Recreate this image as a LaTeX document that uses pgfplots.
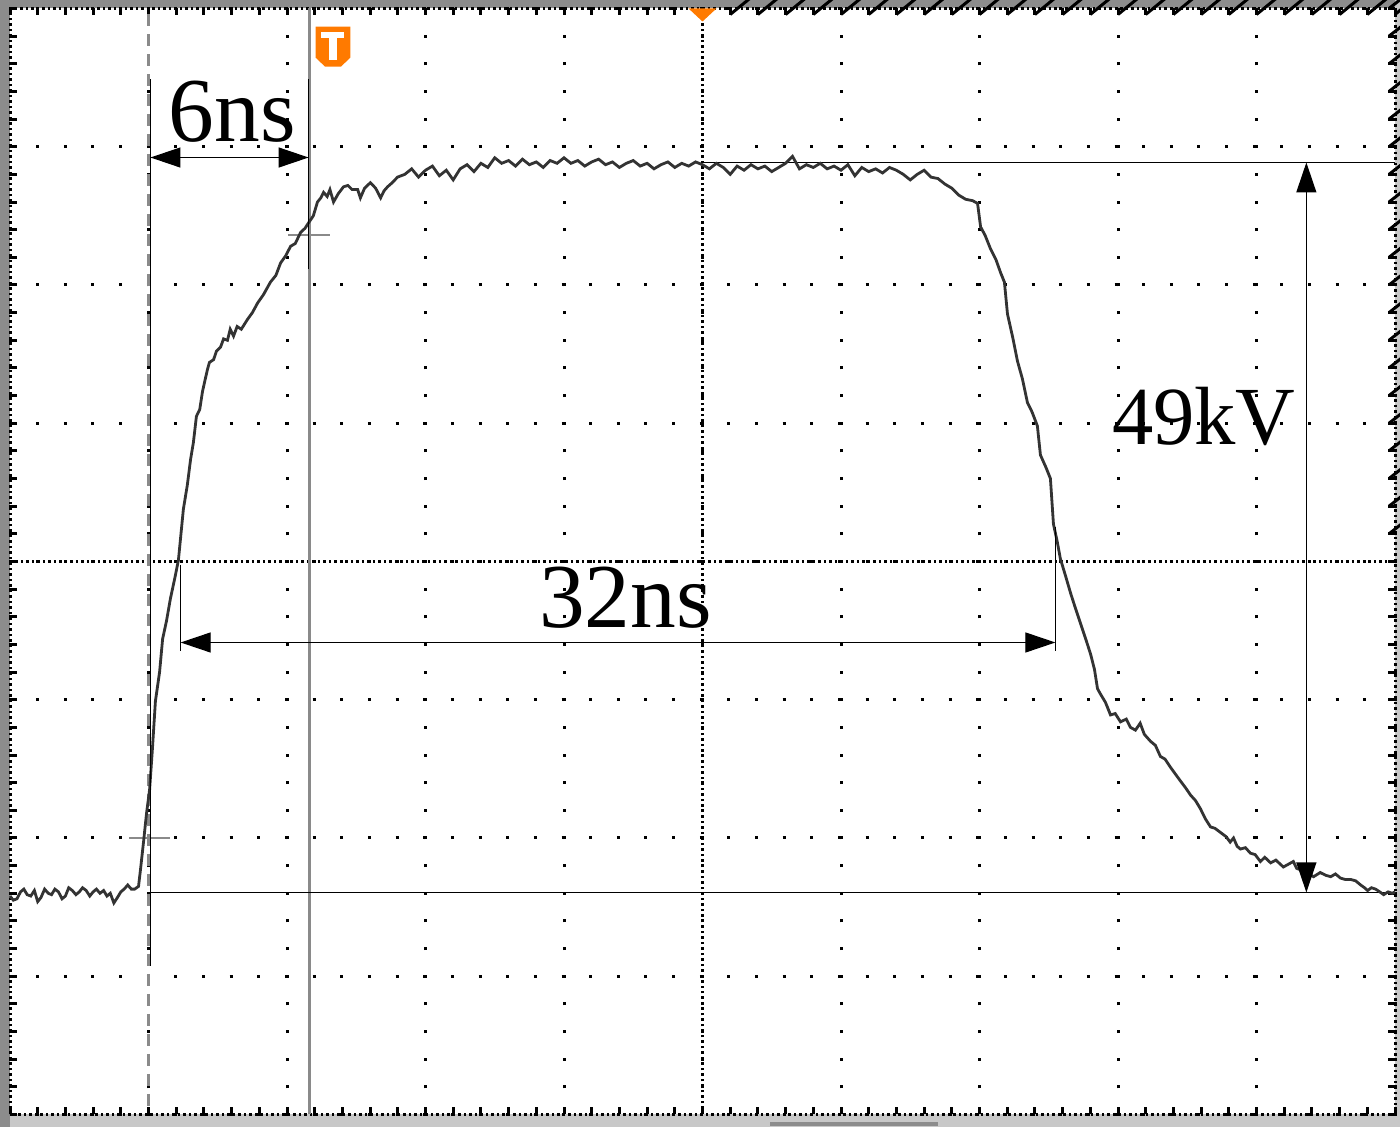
\documentclass[border=0pt]{standalone}
\usepackage{pgfplots}
\pgfplotsset{compat=1.18}
\usetikzlibrary{arrows.meta}
\usepackage{fontspec}
\setmainfont{Liberation Serif}
\definecolor{bezel}{HTML}{8C8C8C}
\definecolor{bezellight}{HTML}{C8C8C8}
\definecolor{trace}{HTML}{333333}
\definecolor{cursor}{HTML}{8A8A8A}
\definecolor{trig}{HTML}{FF7A00}

\begin{document}
\begin{tikzpicture}
% scope frame
\fill[bezel] (-0.10,-0.125) rectangle (13.90,11.145);
\fill[bezellight] (13.85,-0.125) rectangle (13.90,11.145);
\fill[bezellight] (0,-0.125) rectangle (13.90,0);
\fill[bezel] (7.60,-0.075) rectangle (9.28,-0.115);
\fill[white] (0,0) rectangle (13.85,11.06);

\begin{axis}[
  scale only axis, width=13.85cm, height=11.06cm,
  xmin=-25, xmax=25, ymin=-4, ymax=4,
  xtick={-25,-20,...,25}, ytick={-4,...,4},
  minor x tick num=4, minor y tick num=4,
  xticklabels={}, yticklabels={},
  tick align=inside, major tick length=0.07cm, minor tick length=0.07cm,
  tick style={black, line width=0.03cm},
  grid=major,
  major grid style={black, line width=0.03cm, dash pattern=on 0.03cm off 0.2465cm, dash phase=0.015cm},
  axis line style={black, line width=0.03cm, dash pattern=on 0.025cm off 0.03cm},
  clip=false,
]
% centre crosshair
\draw[black, line width=0.025cm, dash pattern=on 0.025cm off 0.03cm] (axis cs:0,-4) -- (axis cs:0,4);
\draw[black, line width=0.025cm, dash pattern=on 0.025cm off 0.03cm] (axis cs:-25,0) -- (axis cs:25,0);
\pgfplotsinvokeforeach{-24,...,24}{\draw[black, line width=0.03cm] (axis cs:#1,0) ++(0,-0.06cm) -- ++(0,0.12cm);}
\pgfplotsinvokeforeach{-3.8,-3.6,...,3.8}{\draw[black, line width=0.03cm] (axis cs:0,#1) ++(-0.06cm,0) -- ++(0.12cm,0);}

% cursors
\draw[cursor, line width=0.03cm, dash pattern=on 0.12cm off 0.08cm] (axis cs:-20.0,3.96) -- (axis cs:-20.0,-3.96);
\draw[cursor, line width=0.03cm] (axis cs:-14.19,-4) -- (axis cs:-14.19,4);
\draw[cursor, line width=0.02cm] (axis cs:-20.69,-2.0) -- (axis cs:-19.24,-2.0);
\draw[cursor, line width=0.02cm] (axis cs:-14.95,2.365) -- (axis cs:-13.43,2.365);

% reference lines
\draw[black, line width=0.012cm] (axis cs:-20.0,-2.394) -- (axis cs:25,-2.394);
\draw[black, line width=0.012cm] (axis cs:-0.07,2.886) -- (axis cs:25,2.886);

% waveform
\addplot[trace, line width=0.028cm, sharp plot, mark=none] coordinates {
(-25.00,-2.42) (-24.88,-2.45) (-24.75,-2.44) (-24.62,-2.39) (-24.50,-2.37) (-24.38,-2.41)
(-24.25,-2.42) (-24.12,-2.38) (-24.00,-2.46) (-23.88,-2.43) (-23.75,-2.37) (-23.62,-2.40)
(-23.50,-2.41) (-23.38,-2.37) (-23.25,-2.39) (-23.12,-2.44) (-23.00,-2.42) (-22.88,-2.36)
(-22.75,-2.38) (-22.62,-2.41) (-22.50,-2.39) (-22.38,-2.36) (-22.25,-2.38) (-22.12,-2.42)
(-22.00,-2.39) (-21.88,-2.37) (-21.75,-2.40) (-21.62,-2.38) (-21.50,-2.42) (-21.38,-2.40)
(-21.25,-2.47) (-21.12,-2.43) (-21.00,-2.39) (-20.88,-2.37) (-20.75,-2.34) (-20.62,-2.37)
(-20.50,-2.37) (-20.36,-2.35) (-20.29,-2.23) (-20.18,-2.03) (-20.07,-1.82) (-19.96,-1.65)
(-19.86,-1.36) (-19.75,-1.01) (-19.60,-0.80) (-19.49,-0.56) (-19.35,-0.43) (-19.21,-0.27)
(-19.05,-0.12) (-18.92,0.01) (-18.74,0.38) (-18.60,0.55) (-18.48,0.74) (-18.38,0.86)
(-18.27,1.05) (-18.15,1.10) (-18.05,1.23) (-17.95,1.32) (-17.87,1.39) (-17.80,1.44)
(-17.65,1.46) (-17.55,1.52) (-17.40,1.55) (-17.29,1.61) (-17.15,1.60) (-17.05,1.68)
(-16.93,1.63) (-16.80,1.70) (-16.65,1.68) (-16.43,1.75) (-16.25,1.80) (-16.06,1.87)
(-15.85,1.93) (-15.60,2.02) (-15.40,2.07) (-15.23,2.16) (-15.05,2.21) (-14.87,2.28)
(-14.70,2.30) (-14.51,2.38) (-14.35,2.41) (-14.22,2.45) (-14.05,2.50) (-13.90,2.60)
(-13.78,2.63) (-13.68,2.67) (-13.55,2.64) (-13.45,2.69) (-13.32,2.60) (-13.15,2.66)
(-12.96,2.71) (-12.80,2.72) (-12.65,2.69) (-12.45,2.69) (-12.35,2.63) (-12.20,2.70)
(-11.99,2.74) (-11.80,2.70) (-11.62,2.63) (-11.50,2.68) (-11.37,2.71) (-11.20,2.74)
(-11.01,2.78) (-10.75,2.80) (-10.50,2.84) (-10.25,2.78) (-10.00,2.83) (-9.75,2.86)
(-9.50,2.79) (-9.25,2.83) (-9.00,2.76) (-8.75,2.84) (-8.50,2.87) (-8.25,2.82)
(-8.00,2.88) (-7.75,2.85) (-7.50,2.92) (-7.25,2.88) (-7.00,2.90) (-6.75,2.86)
(-6.50,2.91) (-6.25,2.87) (-6.00,2.89) (-5.75,2.85) (-5.50,2.90) (-5.25,2.88)
(-5.00,2.92) (-4.75,2.88) (-4.50,2.90) (-4.25,2.86) (-4.00,2.89) (-3.75,2.91)
(-3.50,2.87) (-3.25,2.89) (-3.00,2.85) (-2.75,2.88) (-2.50,2.90) (-2.25,2.86)
(-2.00,2.88) (-1.75,2.84) (-1.50,2.87) (-1.25,2.89) (-1.00,2.85) (-0.75,2.88)
(-0.50,2.86) (-0.25,2.89) (0.00,2.87) (0.25,2.84) (0.50,2.88) (0.75,2.85)
(1.00,2.80) (1.25,2.86) (1.50,2.83) (1.75,2.87) (2.00,2.84) (2.25,2.86)
(2.50,2.82) (2.75,2.85) (3.00,2.88) (3.25,2.93) (3.50,2.84) (3.75,2.87)
(4.00,2.85) (4.25,2.88) (4.50,2.84) (4.75,2.86) (5.00,2.83) (5.25,2.87)
(5.50,2.79) (5.75,2.85) (6.00,2.82) (6.25,2.84) (6.50,2.81) (6.75,2.85)
(7.00,2.83) (7.25,2.80) (7.50,2.76) (7.75,2.80) (8.00,2.83) (8.25,2.78)
(8.50,2.77) (8.75,2.73) (9.00,2.70) (9.25,2.65) (9.50,2.62) (9.75,2.61)
(9.93,2.59) (10.04,2.42) (10.20,2.36) (10.40,2.26) (10.60,2.18) (10.76,2.09)
(10.90,2.02) (11.01,1.79) (11.20,1.62) (11.37,1.45) (11.55,1.32) (11.73,1.15)
(11.90,1.08) (12.09,0.98) (12.20,0.77) (12.40,0.68) (12.56,0.60) (12.67,0.27)
(12.80,0.15) (12.92,0.02) (13.10,-0.10) (13.29,-0.23) (13.45,-0.33) (13.65,-0.45)
(13.85,-0.57) (14.01,-0.67) (14.15,-0.78) (14.26,-0.92) (14.37,-0.96) (14.55,-1.02)
(14.73,-1.11) (14.90,-1.10) (15.09,-1.16) (15.30,-1.14) (15.45,-1.20) (15.63,-1.22)
(15.80,-1.17) (15.95,-1.25) (16.17,-1.30) (16.35,-1.33) (16.53,-1.41) (16.70,-1.43)
(16.90,-1.49) (17.08,-1.54) (17.30,-1.60) (17.45,-1.64) (17.62,-1.69) (17.80,-1.73)
(17.98,-1.79) (18.15,-1.86) (18.34,-1.92) (18.50,-1.93) (18.70,-1.96) (18.90,-1.99)
(19.05,-2.03) (19.17,-2.00) (19.30,-2.06) (19.42,-2.08) (19.60,-2.07) (19.78,-2.11)
(19.95,-2.12) (20.14,-2.17) (20.30,-2.14) (20.51,-2.18) (20.70,-2.16) (20.97,-2.21)
(21.15,-2.19) (21.33,-2.17) (21.45,-2.22) (21.59,-2.23) (21.80,-2.25) (22.06,-2.28)
(22.30,-2.25) (22.50,-2.27) (22.68,-2.28) (22.85,-2.26) (23.03,-2.29) (23.20,-2.30)
(23.40,-2.30) (23.58,-2.31) (23.76,-2.34) (23.90,-2.36) (24.01,-2.38) (24.15,-2.36)
(24.30,-2.37) (24.45,-2.39) (24.59,-2.41) (24.75,-2.39) (24.90,-2.40) (25.00,-2.39)
};

% measurement annotations
\draw[black, line width=0.012cm] (axis cs:-19.93,3.487) -- (axis cs:-19.93,-2.929);
\draw[black, line width=0.012cm] (axis cs:-14.22,3.487) -- (axis cs:-14.22,2.112);
\draw[black, line width=0.012cm, {Triangle[length=0.30cm,width=0.20cm]}-{Triangle[length=0.30cm,width=0.20cm]}]
  (axis cs:-19.93,2.922) -- (axis cs:-14.22,2.922);
\node[anchor=base, inner sep=0pt, font=\fontsize{26}{30}\selectfont] at (axis cs:-16.97,3.038) {6ns};

\draw[black, line width=0.012cm] (axis cs:-18.84,-0.022) -- (axis cs:-18.84,-0.651);
\draw[black, line width=0.012cm] (axis cs:12.74,0.253) -- (axis cs:12.74,-0.651);
\draw[black, line width=0.012cm, {Triangle[length=0.30cm,width=0.20cm]}-{Triangle[length=0.30cm,width=0.20cm]}]
  (axis cs:-18.84,-0.586) -- (axis cs:12.74,-0.586);
\node[anchor=base, inner sep=0pt, font=\fontsize{26}{30}\selectfont] at (axis cs:-2.78,-0.477) {32ns};

\draw[black, line width=0.012cm, {Triangle[length=0.30cm,width=0.20cm]}-{Triangle[length=0.30cm,width=0.20cm]}]
  (axis cs:21.80,2.886) -- (axis cs:21.80,-2.394);
\node[anchor=base, inner sep=0pt, font=\fontsize{23.5}{28}\selectfont] at (axis cs:18.10,0.846) {49kV};

% trigger markers
\fill[trig] (axis cs:-0.505,4.0) -- (axis cs:0.505,4.0) -- (axis cs:0,3.906) -- cycle;
\fill[trig] (axis cs:-13.97,3.868) -- (axis cs:-12.71,3.868) -- (axis cs:-12.71,3.645)
  -- (axis cs:-13.05,3.580) -- (axis cs:-13.63,3.580) -- (axis cs:-13.97,3.645) -- cycle;
\fill[white] (axis cs:-13.79,3.832) rectangle (axis cs:-12.96,3.789);
\fill[white] (axis cs:-13.50,3.789) rectangle (axis cs:-13.18,3.630);
\end{axis}
\pgfresetboundingbox
\useasboundingbox (-0.10,-0.125) rectangle (13.90,11.145);
\end{tikzpicture}
\end{document}
